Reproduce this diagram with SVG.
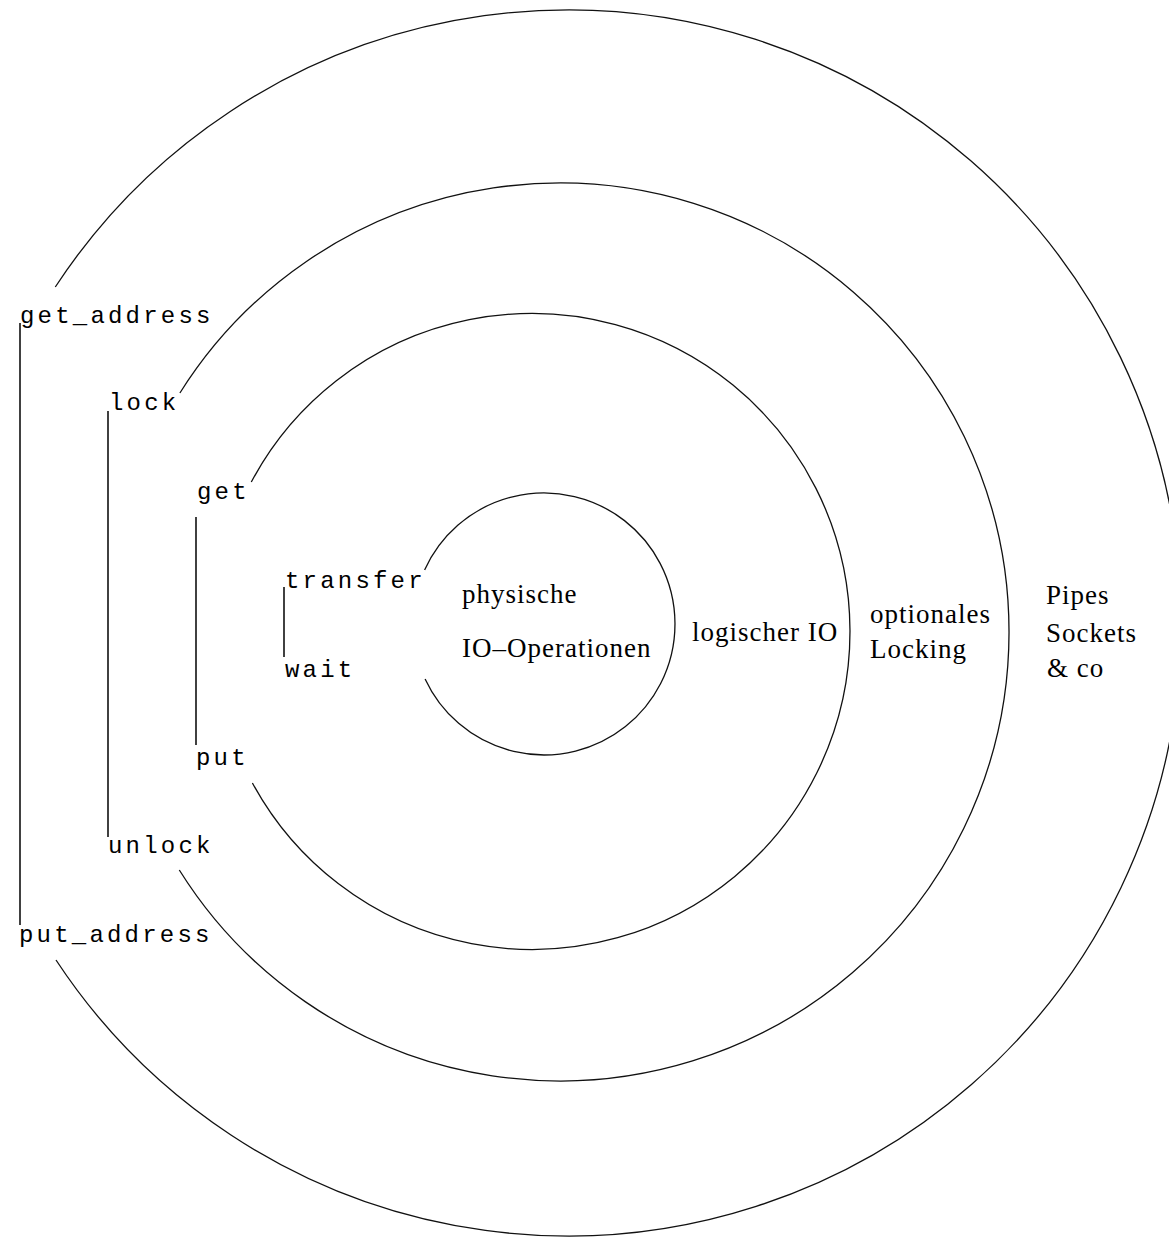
<svg xmlns="http://www.w3.org/2000/svg" width="1169" height="1237" viewBox="0 0 1169 1237">
<style>
.ring{fill:none;stroke:#111;stroke-width:1.3}
.br{stroke:#111;stroke-width:1.6}
.mono{font-family:"Liberation Mono","DejaVu Sans Mono",monospace;font-size:24px;letter-spacing:3.2px;fill:#000}
.ser{font-family:"Liberation Serif","DejaVu Serif",serif;font-size:27px;letter-spacing:1px;fill:#000}
</style>
<rect width="1169" height="1237" fill="#fff"/>
<g id="layer-physical">
<path class="ring" d="M 424.6 570 A 131 131 0 1 1 425.1 679"/>
<text class="ser" x="462" y="603">physische</text>
<text class="ser" x="462" y="657">IO–Operationen</text>
</g>
<g id="layer-logical">
<path class="ring" d="M 251.3 482 A 318 318 0 1 1 252.4 783"/>
<text class="ser" x="692" y="641">logischer IO</text>
</g>
<g id="layer-locking">
<path class="ring" d="M 179.9 393 A 449 449 0 1 1 179.3 870"/>
<text class="ser" x="870" y="623">optionales</text>
<text class="ser" x="870" y="658">Locking</text>
</g>
<g id="layer-pipes">
<path class="ring" d="M 55.3 287 A 613 613 0 1 1 56 960"/>
<text class="ser" x="1046" y="604">Pipes</text>
<text class="ser" x="1046" y="642">Sockets</text>
<text class="ser" x="1047" y="677">&amp; co</text>
</g>
<g id="op-get_address"><text class="mono" x="20" y="323">get_address</text></g>
<g id="op-put_address"><text class="mono" x="19" y="942">put_address</text></g>
<g id="op-lock"><text class="mono" x="109" y="410">lock</text></g>
<g id="op-unlock"><text class="mono" x="108" y="853">unlock</text></g>
<g id="op-get"><text class="mono" x="197" y="499">get</text></g>
<g id="op-put"><text class="mono" x="196" y="765">put</text></g>
<g id="op-transfer"><text class="mono" x="285" y="588">transfer</text></g>
<g id="op-wait"><text class="mono" x="285" y="677">wait</text></g>
<g id="connectors">
<line class="br" x1="20" y1="323" x2="20" y2="925"/>
<line class="br" x1="108" y1="411" x2="108" y2="837"/>
<line class="br" x1="196" y1="517" x2="196" y2="745"/>
<line class="br" x1="284" y1="587" x2="284" y2="657"/>
</g>
</svg>
